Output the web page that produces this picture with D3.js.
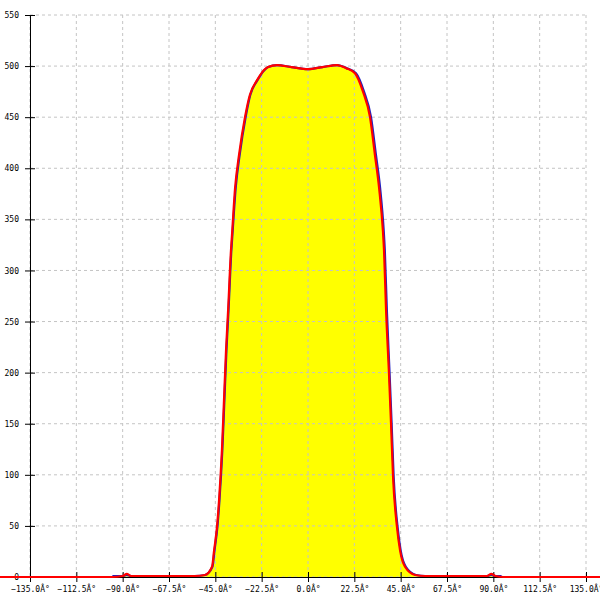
<!DOCTYPE html>
<html lang="en">
<meta charset="utf-8">
<script src="https://d3js.org/d3.v7.min.js"></script>
<style>
  body { margin: 0; background: #fff; }
  .tick text { font-family: "DejaVu Sans Mono", monospace; font-size: 8px; fill: #000; }
  .grid line { stroke: #c4c4c4; stroke-dasharray: 3,3; }
</style>
<body>
<svg width="600" height="600"></svg>
<script>
// tick labels
var xTicks = [-135, -112.5, -90, -67.5, -45, -22.5, 0, 22.5, 45, 67.5, 90, 112.5, 135];
var yTicks = [0, 50, 100, 150, 200, 250, 300, 350, 400, 450, 500, 550];

// red trace (angle in degrees, value)
var redAngle = [-180, -95, -90, -88, -86, -80, -70, -60, -55, -50, -46.6, -45.6, -44.2, -43.2, -41.8, -40.8, -39.8, -38.8, -37.4, -36.9, -35.4, -33.5, -30.6, -28.2, -24.8, -23.3, -19.4, -15.1, -8, 0, 7, 14.1, 18.5, 22.8, 26.7, 30.1, 32.5, 34.5, 36.4, 36.9, 37.9, 39.3, 40.3, 41.3, 43.2, 44.7, 47.1, 52, 56.8, 70, 80, 87, 89, 91, 95, 180];
var redValue = [0, 0, 1, 3, 1, 1, 1, 1, 1, 2, 10, 26, 49, 75, 124, 173, 222, 261, 320, 335, 381, 413, 450, 472, 486, 491, 499, 501, 499, 497, 499, 501, 498, 493, 475, 450, 413, 381, 338, 320, 261, 200, 151, 98, 49, 26, 10, 2, 1, 1, 1, 1, 3, 1, 0, 0];

// blue trace
var blueAngle = [-95, -90, -88, -86, -80, -70, -60, -55, -50, -46.4, -45.4, -44.0, -43.0, -41.6, -40.6, -39.6, -38.6, -37.2, -36.7, -35.1, -33.2, -30.3, -28.0, -24.6, -23.1, -19.3, -15.0, -8, 0, 7, 14.2, 18.8, 23.3, 27.2, 30.6, 33.0, 35.0, 36.8, 37.3, 38.3, 39.6, 40.6, 41.6, 43.5, 45.0, 47.5, 52.5, 57.2, 70, 80, 87, 89, 91, 94];
var blueValue = [1, 1, 2, 1, 1, 1, 1, 1, 2, 10, 26, 49, 75, 124, 173, 222, 261, 320, 335, 381, 413, 450, 472, 486, 491, 499, 501, 499, 497, 499, 501, 498, 493, 475, 450, 413, 381, 338, 320, 261, 200, 151, 98, 49, 26, 10, 2, 1, 1, 1, 1, 2, 1, 1];

var red = redAngle.map(function(a, i) { return [a, redValue[i]]; });
var blue = blueAngle.map(function(a, i) { return [a, blueValue[i]]; });

var svg = d3.select("svg");
var x = d3.scaleLinear().domain([-135, 135]).range([30, 586]);
var y = d3.scaleLinear().domain([0, 550]).range([577, 15]);

var line = d3.line().x(function(d) { return x(d[0]); }).y(function(d) { return y(d[1]); }).curve(d3.curveMonotoneX);
var area = d3.area().x(function(d) { return x(d[0]); }).y0(y(0)).y1(function(d) { return y(d[1]); }).curve(d3.curveMonotoneX);

// fill under curve
svg.append("path").datum(red).attr("d", area).attr("fill", "#ffff00");

// grid
var grid = svg.append("g").attr("class", "grid");
grid.selectAll(".gx").data(xTicks).enter().append("line")
  .attr("x1", function(d) { return x(d); }).attr("x2", function(d) { return x(d); })
  .attr("y1", y(550)).attr("y2", y(0));
grid.selectAll(".gy").data(yTicks).enter().append("line")
  .attr("x1", x(-135)).attr("x2", x(135))
  .attr("y1", function(d) { return y(d); }).attr("y2", function(d) { return y(d); });

// axes
var xAxis = d3.axisBottom(x).tickValues(xTicks).tickSizeInner(5).tickSizeOuter(0)
  .tickFormat(function(d) { return d3.format(".1f")(d) + "Â°"; });
var gx = svg.append("g").attr("transform", "translate(0," + y(0) + ")").call(xAxis);
gx.select(".domain").attr("stroke", "#000");
gx.selectAll(".tick line").attr("y1", -5).attr("y2", 5);
gx.selectAll(".tick text").attr("y", 9).attr("dy", "0.71em");

var yAxis = d3.axisLeft(y).tickValues(yTicks).tickSizeInner(5).tickSizeOuter(0);
var gy = svg.append("g").attr("transform", "translate(" + x(-135) + ",0)").call(yAxis);
gy.selectAll(".tick line").attr("x1", -5).attr("x2", 5);
gy.selectAll(".tick text").attr("x", -11);

// traces
svg.append("path").datum(blue).attr("d", line).attr("fill", "none").attr("stroke", "#2020c0").attr("stroke-width", 2.2);
svg.append("path").datum(red).attr("d", line).attr("fill", "none").attr("stroke", "#ff0000").attr("stroke-width", 2.2);
</script>
</body>
</html>
